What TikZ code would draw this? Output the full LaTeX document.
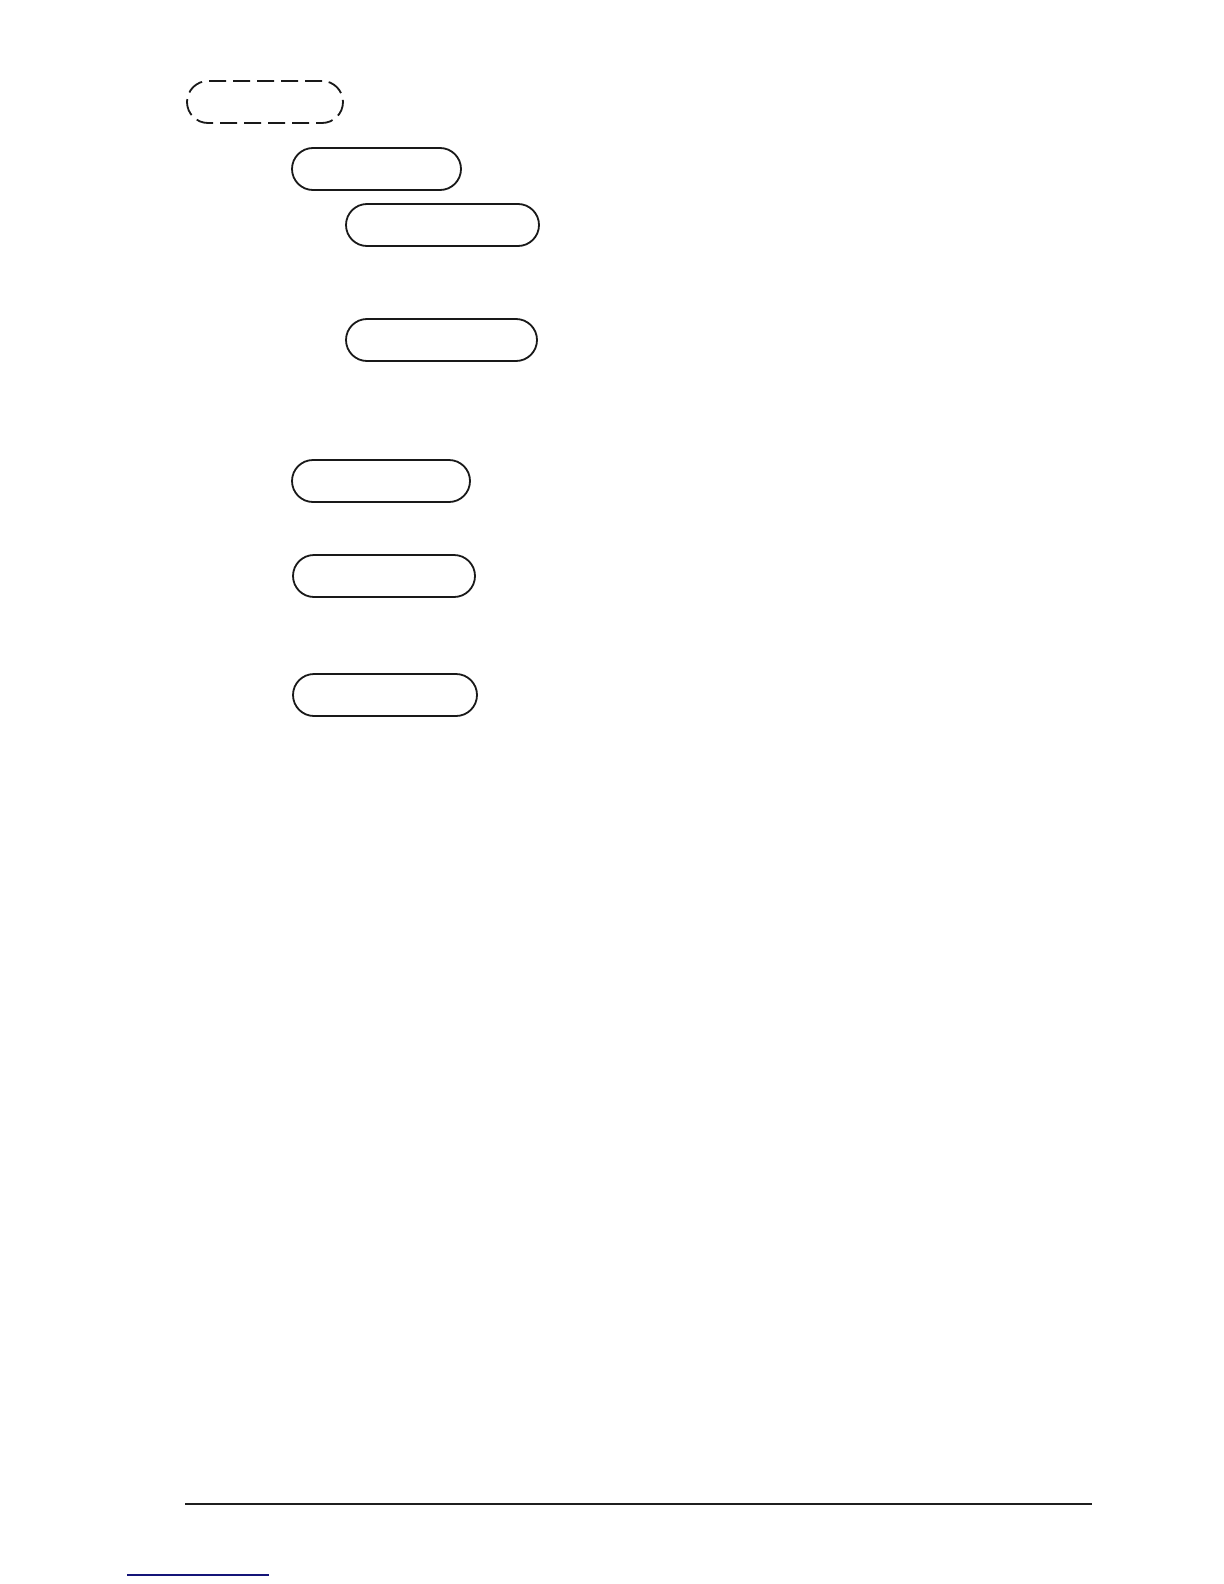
\documentclass[tikz,border=0pt]{standalone}
\begin{document}
\begin{tikzpicture}[x=0.5pt,y=-0.5pt,
  pill/.style={draw=black!90, line width=0.9pt, rectangle, rounded corners=10.5pt, inner sep=0pt, minimum height=21pt},
  dashpill/.style={pill, dash pattern=on 8.5pt off 3.5pt},
  rule/.style={line width=1.1pt, black!88},
  linkline/.style={line width=0.6pt, color={rgb,255:red,20;green,20;blue,120}}]
\useasboundingbox (0,0) rectangle (1224,1584);
\node[dashpill, minimum width=78pt] (d) at (265,102) {};
\node[pill, minimum width=84.5pt] (b2) at (376.5,169) {};
\node[pill, minimum width=96.5pt] (b3) at (442.5,225) {};
\node[pill, minimum width=95.5pt] (b4) at (441.5,340) {};
\node[pill, minimum width=89pt] (b5) at (381,481) {};
\node[pill, minimum width=91pt] (b6) at (384,576) {};
\node[pill, minimum width=92pt] (b7) at (385,695) {};
\coordinate (r1) at (185,1504);
\coordinate (r2) at (1092,1504);
\draw[rule] (r1) -- (r2);
\coordinate (l1) at (127,1575);
\coordinate (l2) at (269,1575);
\draw[linkline] (l1) -- (l2);
\end{tikzpicture}
\end{document}
